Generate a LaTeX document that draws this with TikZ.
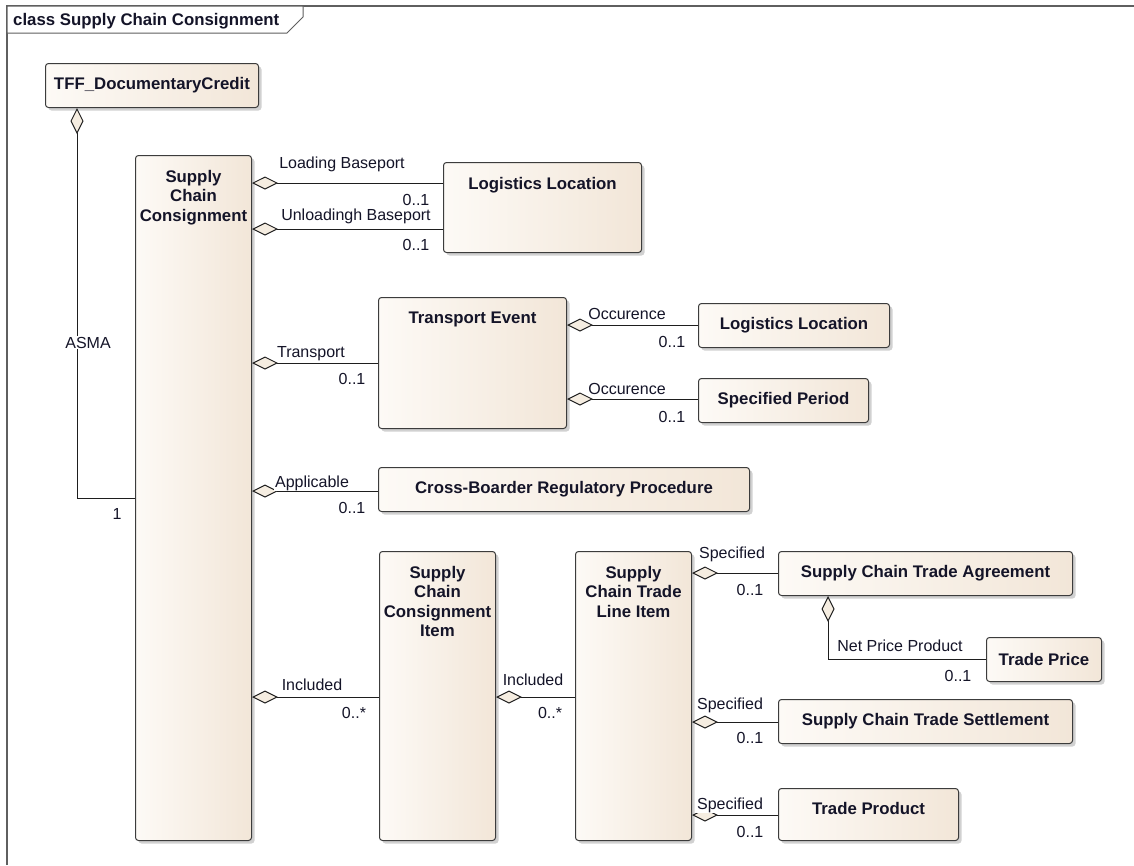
\documentclass[tikz,border=0pt]{standalone}
\usepackage{fontspec}
\setmainfont{Liberation Sans}
\usetikzlibrary{arrows.meta,shadows}
\definecolor{boxL}{RGB}{253,250,246}
\definecolor{boxR}{RGB}{242,230,216}
\definecolor{boxdraw}{RGB}{60,60,60}
\definecolor{dfill}{RGB}{245,237,225}
\definecolor{textc}{RGB}{20,20,40}
\definecolor{framec}{RGB}{95,95,95}
\definecolor{linec}{RGB}{30,30,30}
\newcommand\lblfont{\fontsize{16}{19}\selectfont}
\newcommand\ttlfont{\bfseries\fontsize{16.8}{19.5}\selectfont}
\tikzset{
  umlbox/.style={draw=boxdraw, line width=1pt, rounded corners=3pt,
    left color=boxL, right color=boxR, anchor=north west, inner sep=0pt,
    font=\ttlfont, text=textc, align=center,
    drop shadow={shadow xshift=3pt, shadow yshift=-3pt, fill=black!40, opacity=0.45}},
  ttl/.style={font=\ttlfont, text=textc, align=center, inner sep=0pt, anchor=north},
  lbl/.style={font=\lblfont, text=textc, fill=white, inner sep=1pt, anchor=base},
  agg/.style={draw=linec, line width=1pt,
    arrows={Diamond[length=26pt,width=13pt,fill=dfill]-}}
}
\begin{document}
\begin{tikzpicture}[x=1pt,y=-1pt]
\useasboundingbox (0,0) rectangle (1134,865);
\fill[white] (0,0) rectangle (1134,865);
% frame
\draw[framec, line width=1.6pt] (7,865) -- (7,6) -- (1134,6);
\draw[framec, line width=1pt, fill=white] (7,6) -- (303,6) -- (303,17) -- (287,33) -- (7,33) -- cycle;
\node[font=\ttlfont, text=textc, anchor=base west, inner sep=0pt] (title) at (13,25) {class Supply Chain Consignment};

% boxes
\node[umlbox, minimum width=213pt, minimum height=44pt] (tff) at (45,63) {TFF\_DocumentaryCredit};
\node[umlbox, minimum width=116pt, minimum height=685pt] (scc) at (135,155) {};
\node[umlbox, minimum width=198pt, minimum height=90pt] (ll1) at (443,162) {};
\node[umlbox, minimum width=188pt, minimum height=131pt] (te) at (378,297) {};
\node[umlbox, minimum width=191pt, minimum height=44pt] (ll2) at (698,303) {Logistics Location};
\node[umlbox, minimum width=170pt, minimum height=44pt] (sp) at (698,378) {Specified Period};
\node[umlbox, minimum width=371pt, minimum height=44pt] (cb) at (378,467) {Cross-Boarder Regulatory Procedure};
\node[umlbox, minimum width=116pt, minimum height=289pt] (sci) at (379,551) {};
\node[umlbox, minimum width=116pt, minimum height=289pt] (li) at (575,551) {};
\node[umlbox, minimum width=294pt, minimum height=44pt] (sta) at (778,551) {Supply Chain Trade Agreement};
\node[umlbox, minimum width=115pt, minimum height=44pt] (tp) at (986,637) {Trade Price};
\node[umlbox, minimum width=294pt, minimum height=44pt] (sts) at (778,699) {Supply Chain Trade Settlement};
\node[umlbox, minimum width=180pt, minimum height=52pt] (tprod) at (778,788) {};

% titles of tall boxes
\node[ttl] (scct) at ([yshift=-15pt]scc.north) {Supply\\Chain\\Consignment};
\node[ttl] (ll1t) at ([yshift=-15pt]ll1.north) {Logistics Location};
\node[ttl] (tet) at ([yshift=-15pt]te.north) {Transport Event};
\node[ttl] (scit) at ([yshift=-15pt]sci.north) {Supply\\Chain\\Consignment\\Item};
\node[ttl] (lit) at ([yshift=-15pt]li.north) {Supply\\Chain Trade\\Line Item};
\node[ttl] (tprodt) at ([yshift=-14pt]tprod.north) {Trade Product};

% helper levels
\coordinate (yAS) at (0,498);
\coordinate (yLB) at (0,183);
\coordinate (yUB) at (0,229);
\coordinate (yTR) at (0,363);
\coordinate (yO1) at (0,325);
\coordinate (yO2) at (0,399);
\coordinate (yAP) at (0,491);
\coordinate (yIN) at (0,697);
\coordinate (yS1) at (0,573);
\coordinate (yNP) at (0,659);
\coordinate (yS2) at (0,722);
\coordinate (yS3) at (0,815);

% connectors
\draw[agg] ([xshift=32pt]tff.south west) |- (scc.west |- yAS);
\draw[agg] (scc.east |- yLB) -- (ll1.west |- yLB);
\draw[agg] (scc.east |- yUB) -- (ll1.west |- yUB);
\draw[agg] (scc.east |- yTR) -- (te.west |- yTR);
\draw[agg] (te.east |- yO1) -- (ll2.west |- yO1);
\draw[agg] (te.east |- yO2) -- (sp.west |- yO2);
\draw[agg] (scc.east |- yAP) -- (cb.west |- yAP);
\draw[agg] (scc.east |- yIN) -- (sci.west |- yIN);
\draw[agg] (sci.east |- yIN) -- (li.west |- yIN);
\draw[agg] (li.east |- yS1) -- (sta.west |- yS1);
\draw[agg] ([xshift=50pt]sta.south west) |- (tp.west |- yNP);
\draw[agg] (li.east |- yS2) -- (sts.west |- yS2);
\draw[agg] (li.east |- yS3) -- (tprod.west |- yS3);

% labels
\node[lbl] (l-asma) at (88,348) {ASMA};
\node[lbl] (m-asma) at (117,519) {1};
\node[lbl] (l-lb) at (342,168) {Loading Baseport};
\node[lbl] (m-lb) at (416,205) {0..1};
\node[lbl] (l-ub) at (356,220) {Unloadingh Baseport};
\node[lbl] (m-ub) at (416,250) {0..1};
\node[lbl] (l-tr) at (311,357) {Transport};
\node[lbl] (m-tr) at (352,384) {0..1};
\node[lbl] (l-o1) at (627,319) {Occurence};
\node[lbl] (m-o1) at (672,347) {0..1};
\node[lbl] (l-o2) at (627,394) {Occurence};
\node[lbl] (m-o2) at (672,422) {0..1};
\node[lbl] (l-ap) at (312,487) {Applicable};
\node[lbl] (m-ap) at (352,513) {0..1};
\node[lbl] (l-in1) at (312,690) {Included};
\node[lbl] (m-in1) at (354,718) {0..*};
\node[lbl] (l-in2) at (533,685) {Included};
\node[lbl] (m-in2) at (550,718) {0..*};
\node[lbl] (l-s1) at (732,558) {Specified};
\node[lbl] (m-s1) at (750,595) {0..1};
\node[lbl] (l-np) at (900,651) {Net Price Product};
\node[lbl] (m-np) at (958,681) {0..1};
\node[lbl] (l-s2) at (730,709) {Specified};
\node[lbl] (m-s2) at (750,743) {0..1};
\node[lbl] (l-s3) at (730,809) {Specified};
\node[lbl] (m-s3) at (750,837) {0..1};
\end{tikzpicture}
\end{document}
